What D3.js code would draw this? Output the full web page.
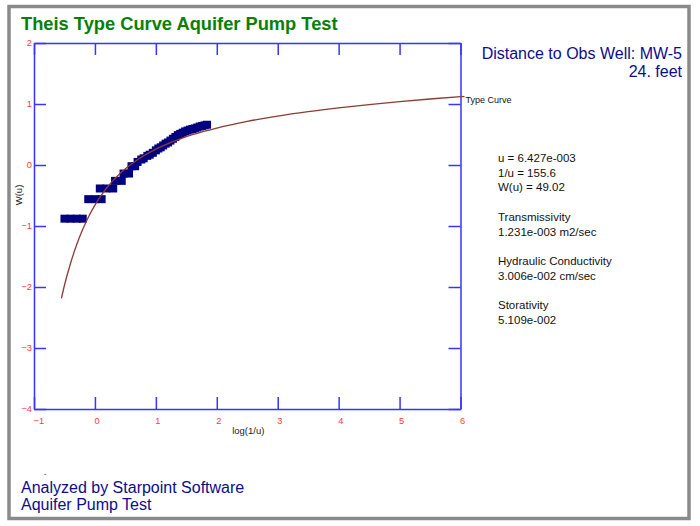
<!DOCTYPE html>
<html>
<head>
<meta charset="utf-8">
<script src="https://cdn.jsdelivr.net/npm/d3@7"></script>
<style>
  html, body { margin: 0; padding: 0; background: #fff; }
  svg { display: block; font-family: "Liberation Sans", Arial, Helvetica, sans-serif; }
</style>
</head>
<body>
<svg id="chart" width="700" height="526"></svg>
<script>
// ---- data ----
const xTicks = [-1, 0, 1, 2, 3, 4, 5, 6];
const yTicks = [-4, -3, -2, -1, 0, 1, 2];

// Type curve: log10(1/u) vs log10 W(u)
const curveX = [-0.55, -0.5, -0.4, -0.3, -0.2, -0.1, 0, 0.1, 0.2, 0.3, 0.4, 0.5, 0.6, 0.8, 1.0, 1.2, 1.4, 1.6, 1.8, 2.0, 2.5, 3.0, 3.5, 4.0, 4.5, 5.0, 5.5, 6.0];
const curveW = [-2.186, -1.971, -1.610, -1.308, -1.055, -0.840, -0.659, -0.503, -0.369, -0.253, -0.151, -0.062, 0.017, 0.151, 0.261, 0.352, 0.429, 0.496, 0.554, 0.606, 0.715, 0.802, 0.874, 0.936, 0.991, 1.039, 1.082, 1.122];

// Observed data (log time shifted, log drawdown shifted)
const obsX = [-0.50, -0.40, -0.30, -0.20, -0.11, 0.00, 0.11, 0.08, 0.19, 0.30,
  0.33, 0.44, 0.47, 0.56, 0.60, 0.66, 0.70, 0.76, 0.80, 0.86, 0.90, 0.95, 1.00, 1.04, 1.08, 1.12,
  1.16, 1.20, 1.24, 1.28, 1.32, 1.36, 1.40, 1.44, 1.48, 1.52, 1.56, 1.60, 1.64, 1.68, 1.72, 1.76, 1.80, 1.84];
const obsW = [-0.88, -0.88, -0.88, -0.88, -0.56, -0.56, -0.56, -0.385, -0.385, -0.385,
  -0.26, -0.26, -0.14, -0.14, -0.02, -0.02, 0.05, 0.09, 0.11, 0.15, 0.17, 0.20, 0.24, 0.27, 0.29, 0.32,
  0.35, 0.37, 0.40, 0.43, 0.46, 0.49, 0.51, 0.53, 0.55, 0.565, 0.58, 0.59, 0.60, 0.615, 0.63, 0.64, 0.65, 0.66];

const titleText = "Theis Type Curve Aquifer Pump Test";
const wellLines = ["Distance to Obs Well: MW-5", "24. feet"];
const paramLines = ["u = 6.427e-003", "1/u = 155.6", "W(u) = 49.02", "",
  "Transmissivity", "1.231e-003 m2/sec", "",
  "Hydraulic Conductivity", "3.006e-002 cm/sec", "",
  "Storativity", "5.109e-002"];
const footerLines = ["Analyzed by Starpoint Software", "Aquifer Pump Test"];

// ---- layout ----
const svg = d3.select("#chart");
const L = 34, R = 460.5, T = 43, B = 409;
const axisColor = "#3535ff";
const tickColor = "#ff3b3b";

// page frame
svg.append("rect").attr("x", 9).attr("y", 6.5).attr("width", 680).attr("height", 512)
  .attr("fill", "none").attr("stroke", "#8a8a8a").attr("stroke-width", 3.5);

const x = d3.scaleLinear().domain([-1, 6]).range([L, R]);
const y = d3.scaleLinear().domain([-4, 2]).range([B, T]);

// title
svg.append("text").attr("x", 21).attr("y", 29.5)
  .attr("font-size", 18.3).attr("font-weight", "bold").attr("fill", "#078007")
  .text(titleText);

// axes
function styleAxis(g) {
  g.select(".domain").attr("stroke", axisColor).attr("stroke-width", 1.5);
  g.selectAll(".tick line").attr("stroke", axisColor).attr("stroke-width", 1.5);
  g.selectAll("text").attr("fill", tickColor).attr("font-size", 9.3)
    .attr("font-family", "Liberation Sans, Arial, sans-serif");
}
const gB = svg.append("g").attr("transform", `translate(0,${B})`)
  .call(d3.axisBottom(x).tickValues(xTicks).tickSize(-12).tickSizeOuter(0).tickPadding(8).tickFormat(d3.format("d")));
styleAxis(gB);
gB.selectAll(".tick text").attr("text-anchor", "start").attr("x", -1);

const gT = svg.append("g").attr("transform", `translate(0,${T})`)
  .call(d3.axisTop(x).tickValues(xTicks).tickSize(-12).tickSizeOuter(0).tickFormat(""));
styleAxis(gT);

const gL = svg.append("g").attr("transform", `translate(${L},0)`)
  .call(d3.axisLeft(y).tickValues(yTicks).tickSize(-12).tickSizeOuter(0).tickPadding(2).tickFormat(d3.format("d")));
styleAxis(gL);

const gR = svg.append("g").attr("transform", `translate(${R},0)`)
  .call(d3.axisRight(y).tickValues(yTicks).tickSize(-12).tickSizeOuter(0).tickFormat(""));
styleAxis(gR);

// axis titles
svg.append("text").attr("x", (L + R) / 2 + 1).attr("y", 434).attr("text-anchor", "middle")
  .attr("font-size", 9.5).attr("fill", "#222").text("log(1/u)");
svg.append("text").attr("transform", "translate(22,195) rotate(-90)").attr("text-anchor", "middle")
  .attr("font-size", 9.5).attr("fill", "#222").text("W(u)");

// data squares
const sq = 8;
svg.append("g").selectAll("rect").data(obsX.map((d, i) => [d, obsW[i]])).join("rect")
  .attr("x", d => x(d[0]) - sq / 2).attr("y", d => y(d[1]) - sq / 2)
  .attr("width", sq).attr("height", sq).attr("fill", "#000080");

// type curve
const curvePts = curveX.map((d, i) => [d, curveW[i]]);
const line = d3.line().x(d => x(d[0])).y(d => y(d[1])).curve(d3.curveMonotoneX);
svg.append("path").datum(curvePts).attr("d", line)
  .attr("fill", "none").attr("stroke", "#8c3b32").attr("stroke-width", 1.3);
const last = curvePts[curvePts.length - 1];
svg.append("line").attr("x1", x(last[0])).attr("y1", y(last[1])).attr("x2", x(last[0]) + 4).attr("y2", y(last[1]))
  .attr("stroke", "#8c3b32").attr("stroke-width", 1.3);
svg.append("text").attr("x", x(last[0]) + 5).attr("y", y(last[1]) + 6)
  .attr("font-size", 9).attr("fill", "#111").text("Type Curve");

// well info
svg.selectAll("text.well").data(wellLines).join("text").attr("class", "well")
  .attr("x", 682).attr("y", (d, i) => 59 + i * 17.7).attr("text-anchor", "end")
  .attr("font-size", 16).attr("fill", "#0c0c8c").text(d => d);

// parameters
svg.selectAll("text.param").data(paramLines).join("text").attr("class", "param")
  .attr("x", 498).attr("y", (d, i) => 162 + i * 14.7)
  .attr("font-size", 11.5).attr("fill", "#111").text(d => d);

// footer
svg.append("text").attr("x", 44).attr("y", 476).attr("font-size", 7).attr("fill", "#0c0c8c").text("-");
svg.selectAll("text.foot").data(footerLines).join("text").attr("class", "foot")
  .attr("x", 21).attr("y", (d, i) => 492.5 + i * 17.5)
  .attr("font-size", 16).attr("fill", "#0c0c8c").text(d => d);
</script>
</body>
</html>
